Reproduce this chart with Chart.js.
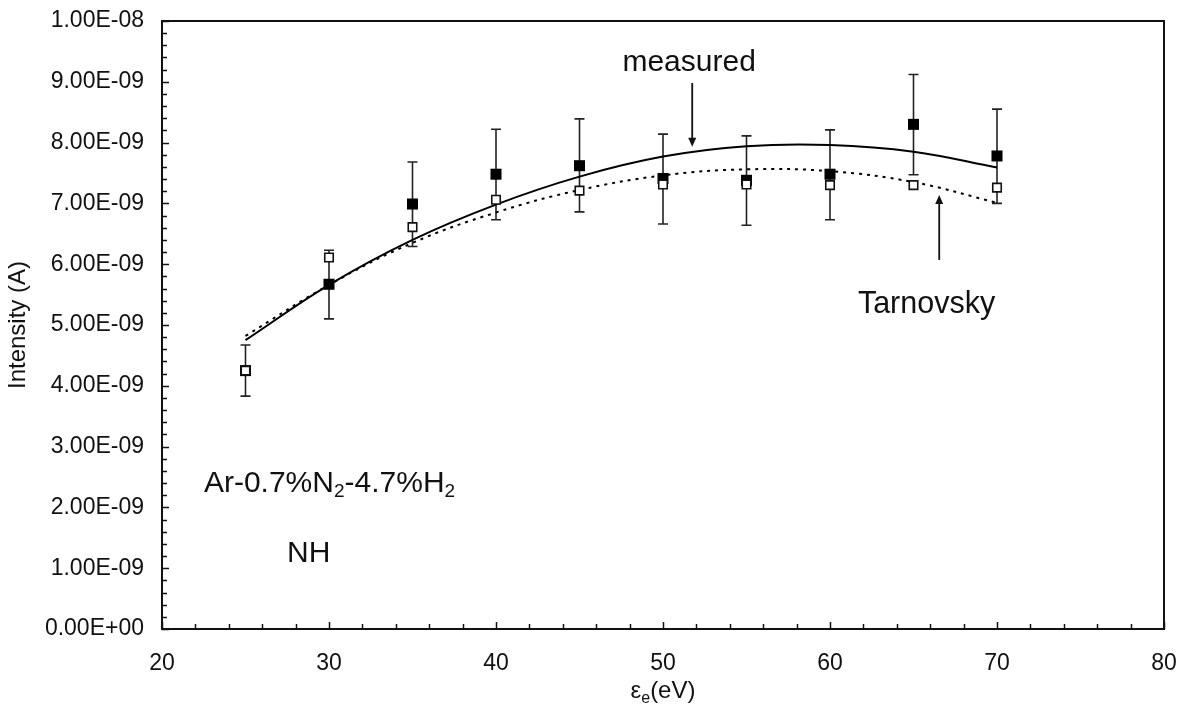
<!DOCTYPE html>
<html>
<head>
<meta charset="utf-8">
<script src="https://cdn.jsdelivr.net/npm/chart.js@4.4.1/dist/chart.umd.min.js"></script>
<style>
  html, body { margin: 0; padding: 0; background: #fff; }
</style>
</head>
<body>
<canvas id="chart" width="1191" height="711"></canvas>
<script>
// electron energy (eV)
const energies = [25, 30, 35, 40, 45, 50, 55, 60, 65, 70];
// intensities, in units of 1e-9 A
const measured = [4.25, 5.67, 6.99, 7.48, 7.62, 7.41, 7.38, 7.48, 8.30, 7.78];
const tarnovsky = [4.25, 6.11, 6.61, 7.06, 7.21, 7.31, 7.31, 7.30, 7.30, 7.26];
const errHigh = [4.67, 6.23, 7.68, 8.22, 8.39, 8.14, 8.11, 8.21, 9.12, 8.55];
const errLow = [3.83, 5.10, 6.29, 6.73, 6.86, 6.66, 6.64, 6.73, 7.47, 7.00];
// fitted curves
const measuredFit = [4.75, 5.66, 6.40, 6.98, 7.44, 7.77, 7.94, 7.96, 7.85, 7.59];
const tarnovskyFit = [4.82, 5.66, 6.35, 6.85, 7.22, 7.46, 7.56, 7.53, 7.35, 7.01];

const xTicks = [20, 30, 40, 50, 60, 70, 80];
const yTicks = [0, 1, 2, 3, 4, 5, 6, 7, 8, 9, 10];

const FONT = "'Liberation Sans', Arial, sans-serif";

function sci(v) {
  if (v === 0) return "0.00E+00";
  const p = Math.floor(Math.log10(v) + 1e-9);
  const e = p - 9;
  const m = v / Math.pow(10, p);
  return m.toFixed(2) + "E" + (e < 0 ? "-" : "+") + String(Math.abs(e)).padStart(2, "0");
}

const pts = arr => energies.map((x, i) => ({ x, y: arr[i] }));

// inward tick marks + box around the plot
const frame = {
  id: "frame",
  afterDraw(chart) {
    const { ctx, chartArea: a, scales: { x, y } } = chart;
    ctx.save();
    ctx.strokeStyle = "#111";
    ctx.lineWidth = 1.5;
    for (let v = 20; v <= 80; v += 2) {
      const px = Math.round(x.getPixelForValue(v)) + 0.5;
      const len = v % 10 === 0 ? 7 : 5;
      ctx.beginPath(); ctx.moveTo(px, a.bottom); ctx.lineTo(px, a.bottom - len); ctx.stroke();
    }
    for (let i = 0; i <= 50; i++) {
      const py = Math.round(y.getPixelForValue(i * 0.2)) + 0.5;
      const len = i % 5 === 0 ? 7 : 5;
      ctx.beginPath(); ctx.moveTo(a.left, py); ctx.lineTo(a.left + len, py); ctx.stroke();
    }
    ctx.lineWidth = 2;
    ctx.strokeRect(a.left, a.top, a.right - a.left, a.bottom - a.top);
    ctx.restore();
  }
};

// error bars on the measured points
const errorBars = {
  id: "errorBars",
  beforeDatasetsDraw(chart) {
    const { ctx, scales: { x, y } } = chart;
    ctx.save();
    ctx.strokeStyle = "#222";
    ctx.lineWidth = 1.6;
    energies.forEach((e, i) => {
      const px = x.getPixelForValue(e);
      const top = y.getPixelForValue(errHigh[i]);
      const bot = y.getPixelForValue(errLow[i]);
      ctx.beginPath();
      ctx.moveTo(px, top); ctx.lineTo(px, bot);
      ctx.moveTo(px - 5, top); ctx.lineTo(px + 5, top);
      ctx.moveTo(px - 5, bot); ctx.lineTo(px + 5, bot);
      ctx.stroke();
    });
    ctx.restore();
  }
};

function drawRich(ctx, parts, x, y) {
  let cx = x;
  parts.forEach(([txt, size, dy]) => {
    ctx.font = size + "px " + FONT;
    ctx.fillText(txt, cx, y + dy);
    cx += ctx.measureText(txt).width;
  });
  return cx - x;
}

function measureRich(ctx, parts) {
  let w = 0;
  parts.forEach(([txt, size]) => { ctx.font = size + "px " + FONT; w += ctx.measureText(txt).width; });
  return w;
}

function arrow(ctx, x, y1, y2) {
  const dir = Math.sign(y2 - y1);
  ctx.beginPath(); ctx.moveTo(x, y1); ctx.lineTo(x, y2 - dir * 8); ctx.stroke();
  ctx.beginPath();
  ctx.moveTo(x, y2); ctx.lineTo(x - 4, y2 - dir * 9); ctx.lineTo(x + 4, y2 - dir * 9);
  ctx.closePath(); ctx.fill();
}

const notes = {
  id: "notes",
  afterDraw(chart) {
    const { ctx, chartArea: a, scales: { x, y } } = chart;
    ctx.save();
    ctx.fillStyle = "#111";
    ctx.strokeStyle = "#111";
    ctx.lineWidth = 1.8;
    ctx.textBaseline = "alphabetic";
    ctx.textAlign = "left";
    drawRich(ctx, [["measured", 30, 0]], x.getPixelForValue(47.57), y.getPixelForValue(9.17));
    drawRich(ctx, [["Tarnovsky", 30.5, 0]], x.getPixelForValue(61.67), y.getPixelForValue(5.19));
    drawRich(ctx, [["Ar-0.7%N", 30, 0], ["2", 19, 5], ["-4.7%H", 30, 0], ["2", 19, 5]],
      x.getPixelForValue(22.51), y.getPixelForValue(2.26));
    drawRich(ctx, [["NH", 30, 0]], x.getPixelForValue(27.49), y.getPixelForValue(1.11));
    arrow(ctx, x.getPixelForValue(51.75), y.getPixelForValue(8.98), y.getPixelForValue(7.93));
    arrow(ctx, x.getPixelForValue(66.54), y.getPixelForValue(6.07), y.getPixelForValue(7.14));
    // x axis title with subscript
    const title = [["\u03b5", 24, 0], ["e", 16, 5], ["(eV)", 24, 0]];
    const w = measureRich(ctx, title);
    drawRich(ctx, title, (a.left + a.right) / 2 - w / 2, 698);
    ctx.restore();
  }
};

new Chart(document.getElementById("chart"), {
  type: "line",
  data: {
    datasets: [
      {
        label: "Tarnovsky",
        data: pts(tarnovsky),
        showLine: false,
        pointStyle: "rect",
        pointRadius: 6,
        pointBackgroundColor: "#fff",
        pointBorderColor: "#111",
        pointBorderWidth: 1.6,
      },
      {
        label: "measured",
        data: pts(measured),
        showLine: false,
        pointStyle: "rect",
        pointRadius: 7.8,
        pointBackgroundColor: "#000",
        pointBorderColor: "#000",
        pointBorderWidth: 0,
      },
      {
        label: "measured fit",
        data: pts(measuredFit),
        borderColor: "#000",
        borderWidth: 2,
        pointRadius: 0,
        tension: 0.4,
      },
      {
        label: "Tarnovsky fit",
        data: pts(tarnovskyFit),
        borderColor: "#000",
        borderWidth: 2,
        borderDash: [3, 5],
        pointRadius: 0,
        tension: 0.4,
      },
    ],
  },
  options: {
    responsive: false,
    animation: false,
    devicePixelRatio: 1,
    layout: { padding: { left: 0, right: 27, top: 21, bottom: 0 } },
    plugins: { legend: { display: false }, tooltip: { enabled: false } },
    scales: {
      x: {
        type: "linear",
        min: 20,
        max: 80,
        afterBuildTicks: s => { s.ticks = xTicks.map(v => ({ value: v })); },
        afterFit: s => { s.height = 82; s.paddingLeft = 0; s.paddingRight = 0; },
        grid: { display: false, drawTicks: false },
        border: { display: false },
        ticks: { color: "#111", font: { family: FONT, size: 23 }, padding: 21, maxRotation: 0 },
      },
      y: {
        type: "linear",
        min: 0,
        max: 10,
        afterBuildTicks: s => { s.ticks = yTicks.map(v => ({ value: v })); },
        afterFit: s => { s.width = 162; s.paddingTop = 0; s.paddingBottom = 0; },
        grid: { display: false, drawTicks: false },
        border: { display: false },
        ticks: { color: "#111", font: { family: FONT, size: 23 }, padding: 18, callback: v => sci(v) },
        title: {
          display: true,
          text: "Intensity (A)",
          color: "#111",
          font: { family: FONT, size: 24 },
          padding: { top: 4, bottom: 0 },
        },
      },
    },
  },
  plugins: [frame, errorBars, notes],
});
</script>
</body>
</html>
